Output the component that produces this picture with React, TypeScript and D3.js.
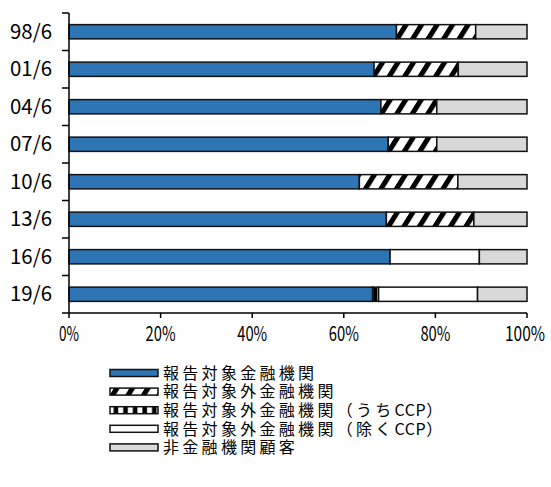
import * as d3 from "d3";

const periods = ["98/6", "01/6", "04/6", "07/6", "10/6", "13/6", "16/6", "19/6"];
// shares (%)
const reporting = [71.5, 66.6, 68.1, 69.7, 63.4, 69.3, 70.1, 66.3];
const nonReporting = [17.3, 18.4, 12.2, 10.6, 21.5, 19.1, 0, 0];
const nonReportingCcp = [0, 0, 0, 0, 0, 0, 0, 1.3];
const nonReportingExCcp = [0, 0, 0, 0, 0, 0, 19.5, 21.6];
const nonFinancial = [11.2, 15.0, 19.7, 19.7, 15.1, 11.6, 10.4, 10.8];

const seriesKeys = ["reporting", "nonReporting", "ccp", "exCcp", "nonFinancial"];
const seriesLabels = [
  "報告対象金融機関",
  "報告対象外金融機関",
  "報告対象外金融機関（うちCCP）",
  "報告対象外金融機関（除くCCP）",
  "非金融機関顧客",
];
const seriesFills = ["#2E75B6", "url(#hatch)", "url(#vstripe)", "#FFFFFF", "#D9D9D9"];
const xTicks = [0, 20, 40, 60, 80, 100];

const W = 551;
const H = 487;
const left = 69;
const right = 527;
const top = 13;
const bottom = 313;
const labelFont = "'Noto Sans CJK JP', 'DejaVu Sans', sans-serif";

export default function App() {
  const rows = periods.map((p, i) => ({
    period: p,
    reporting: reporting[i],
    nonReporting: nonReporting[i],
    ccp: nonReportingCcp[i],
    exCcp: nonReportingExCcp[i],
    nonFinancial: nonFinancial[i],
  }));
  const stacked = d3.stack<any>().keys(seriesKeys)(rows);

  const x = d3.scaleLinear().domain([0, 100]).range([left, right]);
  const y = d3.scaleBand().domain(periods).range([top, bottom]);
  const barH = y.bandwidth() * 0.38;
  const boundaries = [...periods.map((p) => y(p) as number), bottom];

  return (
    <svg
      width={W}
      height={H}
      style={{ position: "absolute", left: 0, top: 0, background: "#fff" }}
    >
      <defs>
        <pattern
          id="hatch"
          patternUnits="userSpaceOnUse"
          width={15.5}
          height={15}
          patternTransform="skewX(-32)"
        >
          <rect width={15.5} height={15} fill="#fff" />
          <rect width={6} height={15} fill="#000" />
        </pattern>
        <pattern id="vstripe" patternUnits="userSpaceOnUse" width={9.6} height={10}>
          <rect width={9.6} height={10} fill="#000" />
          <rect x={3} width={5} height={10} fill="#fff" />
        </pattern>
      </defs>

      {stacked.map((s, si) => (
        <g key={s.key} fill={seriesFills[si]}>
          {s.map((d, i) =>
            d[1] - d[0] > 0 ? (
              <rect
                key={i}
                x={x(d[0])}
                y={(y(periods[i]) as number) + (y.bandwidth() - barH) / 2}
                width={x(d[1]) - x(d[0])}
                height={barH}
                stroke="#111"
                strokeWidth={1.5}
              />
            ) : null
          )}
        </g>
      ))}

      {/* y axis */}
      <line x1={left} x2={left} y1={top} y2={bottom} stroke="#000" strokeWidth={1.5} />
      {boundaries.map((b, i) => (
        <line key={i} x1={left - 7} x2={left} y1={b} y2={b} stroke="#000" strokeWidth={1.5} />
      ))}
      {periods.map((p) => (
        <text
          key={p}
          x={52}
          y={(y(p) as number) + y.bandwidth() / 2}
          dy="0.36em"
          textAnchor="end"
          fontSize={20}
          fontFamily={labelFont}
          textLength={42}
          lengthAdjust="spacingAndGlyphs"
          fill="#000"
        >
          {p}
        </text>
      ))}

      {/* x axis */}
      <line x1={left} x2={right} y1={bottom} y2={bottom} stroke="#000" strokeWidth={1.5} />
      {xTicks.map((t) => (
        <g key={t}>
          <line x1={x(t)} x2={x(t)} y1={bottom} y2={bottom + 5} stroke="#000" strokeWidth={1.5} />
          <text
            x={t === 100 ? x(t) - 2 : x(t)}
            y={334}
            dy="0.36em"
            textAnchor="middle"
            fontSize={20}
            fontFamily={labelFont}
            textLength={`${t}%`.length * 10}
            lengthAdjust="spacingAndGlyphs"
            fill="#000"
          >
            {`${t}%`}
          </text>
        </g>
      ))}

      {/* legend */}
      {seriesLabels.map((lab, i) => {
        const cy = 373 + i * 18.6;
        return (
          <g key={lab}>
            <rect
              x={110}
              y={cy - 3.5}
              width={48}
              height={7}
              fill={seriesFills[i]}
              stroke="#111"
              strokeWidth={1.5}
            />
            <text
              x={163}
              y={cy}
              dy="0.36em"
              fontSize={16}
              fontFamily={labelFont}
              fill="#000"
            >
              {lab.split(/(CCP)/).map((part, k) => (
                <tspan key={k} letterSpacing={part === "CCP" ? 0.5 : 3.3}>
                  {part}
                </tspan>
              ))}
            </text>
          </g>
        );
      })}
    </svg>
  );
}
